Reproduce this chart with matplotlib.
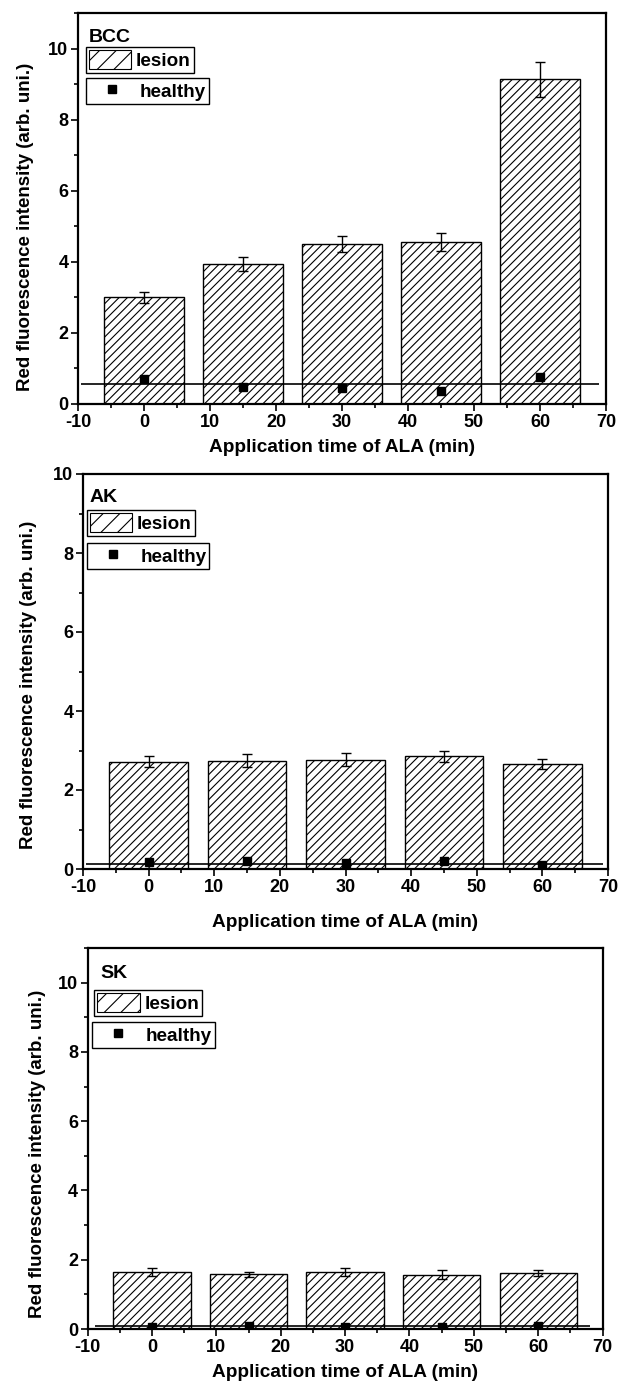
import matplotlib
matplotlib.use('Agg')
import matplotlib.pyplot as plt
import matplotlib.patches as mpatches
from matplotlib.lines import Line2D
from matplotlib.ticker import MultipleLocator

plt.rcParams['font.family'] = ['Liberation Sans', 'DejaVu Sans']
plt.rcParams['font.weight'] = 'bold'
plt.rcParams['axes.labelweight'] = 'bold'
plt.rcParams['axes.unicode_minus'] = False
plt.rcParams['hatch.linewidth'] = 0.8

# ALA application times (min)
times = [0, 15, 30, 45, 60]

# BCC
bcc_lesion = [3.00, 3.94, 4.51, 4.56, 9.13]
bcc_lesion_err = [0.16, 0.19, 0.23, 0.26, 0.48]
bcc_healthy = [0.70, 0.48, 0.45, 0.37, 0.75]
bcc_baseline = 0.55

# AK
ak_lesion = [2.71, 2.74, 2.77, 2.85, 2.65]
ak_lesion_err = [0.14, 0.17, 0.17, 0.14, 0.13]
ak_healthy = [0.18, 0.19, 0.15, 0.19, 0.11]
ak_baseline = 0.13

# SK
sk_lesion = [1.65, 1.58, 1.65, 1.57, 1.62]
sk_lesion_err = [0.12, 0.08, 0.12, 0.12, 0.08]
sk_healthy = [0.07, 0.08, 0.07, 0.07, 0.08]
sk_baseline = 0.09

W, H = 618, 1386
fig = plt.figure(figsize=(W / 100, H / 100), dpi=100)


def px_rect(left, right, top, bottom):
    return [left / W, 1 - bottom / H, (right - left) / W, (bottom - top) / H]


panels = [
    dict(name='BCC', lesion=bcc_lesion, err=bcc_lesion_err, healthy=bcc_healthy,
         baseline=bcc_baseline, ymax=11, span=(-9.5, 69),
         rect=px_rect(78, 606, 13, 404),
         name_pos=(0.0195, 0.925), leg1=(0.0146, 0.913), leg2=(0.0146, 0.834),
         xlab=(0.5, -0.0895), ylab=(-0.083, 0.453)),
    dict(name='AK', lesion=ak_lesion, err=ak_lesion_err, healthy=ak_healthy,
         baseline=ak_baseline, ymax=10, span=(-9.5, 69.2),
         rect=px_rect(83, 608, 474, 869),
         name_pos=(0.012, 0.928), leg1=(0.007, 0.909), leg2=(0.007, 0.8245),
         xlab=(0.5, -0.114), ylab=(-0.088, 0.466)),
    dict(name='SK', lesion=sk_lesion, err=sk_lesion_err, healthy=sk_healthy,
         baseline=sk_baseline, ymax=11, span=(-8.9, 68),
         rect=px_rect(87.6, 602.6, 948, 1329),
         name_pos=(0.024, 0.9205), leg1=(0.013, 0.89), leg2=(0.008, 0.8066),
         xlab=(0.5, -0.092), ylab=(-0.081, 0.459)),
]

for p in panels:
    ax = fig.add_axes(p['rect'])

    ax.bar(times, p['lesion'], width=12, color='white', edgecolor='black',
           linewidth=1.0, hatch='////', zorder=2)
    ax.errorbar(times, p['lesion'], yerr=p['err'], fmt='none', ecolor='black',
                elinewidth=1.0, capsize=3.5, capthick=1.0, zorder=3)
    ax.hlines(p['baseline'], p['span'][0], p['span'][1], color='black',
              linewidth=1.2, zorder=4)
    ax.plot(times, p['healthy'], 's', color='black', markersize=5.5, zorder=5)

    ax.set_xlim(-10, 70)
    ax.set_ylim(0, p['ymax'])
    ax.xaxis.set_major_locator(MultipleLocator(10))
    ax.xaxis.set_minor_locator(MultipleLocator(5))
    ax.yaxis.set_major_locator(MultipleLocator(2))
    ax.yaxis.set_minor_locator(MultipleLocator(1))
    ax.tick_params(which='both', direction='out', top=False, right=False, width=1.2)
    ax.tick_params(which='major', length=5, labelsize=13, pad=2)
    ax.tick_params(which='minor', length=3)
    for s in ax.spines.values():
        s.set_linewidth(1.6)

    ax.set_xlabel('Application time of ALA (min)', fontsize=13.7)
    ax.set_ylabel('Red fluorescence intensity (arb. uni.)', fontsize=13.5)
    ax.xaxis.set_label_coords(*p['xlab'])
    ax.yaxis.set_label_coords(*p['ylab'])

    ax.text(p['name_pos'][0], p['name_pos'][1], p['name'], transform=ax.transAxes,
            fontsize=14, va='baseline', ha='left')

    # separate boxed legends for lesion and healthy
    lesion_handle = mpatches.Patch(facecolor='white', edgecolor='black', hatch='//',
                                   linewidth=0.8, label='lesion')
    healthy_handle = Line2D([], [], marker='s', linestyle='none', color='black',
                            markersize=5.5, label='healthy')
    common = dict(loc='upper left', borderaxespad=0, fancybox=False, edgecolor='black',
                  framealpha=1, fontsize=13.6, handletextpad=0.25, borderpad=0.15)
    leg1 = ax.legend(handles=[lesion_handle], bbox_to_anchor=p['leg1'],
                     handlelength=2.26, handleheight=1.18, **common)
    leg1.get_frame().set_linewidth(1.0)
    ax.add_artist(leg1)
    leg2 = ax.legend(handles=[healthy_handle], bbox_to_anchor=p['leg2'],
                     handlelength=2.45, handleheight=1.25, **common)
    leg2.get_frame().set_linewidth(1.0)

fig.savefig('out.png', dpi=100)
